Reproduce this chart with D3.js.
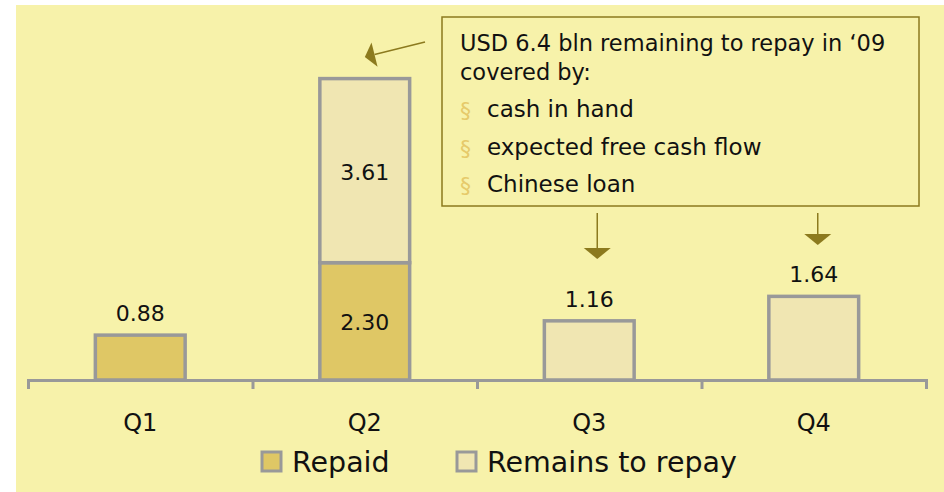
<!DOCTYPE html>
<html>
<head>
<meta charset="utf-8">
<script src="https://cdn.jsdelivr.net/npm/d3@7"></script>
<style>
  body { margin: 0; background: #ffffff; }
  svg text { font-family: "DejaVu Sans", Verdana, sans-serif; fill: #111; }
</style>
</head>
<body>
<svg id="chart"></svg>
<script>
// data
var quarters = ["Q1", "Q2", "Q3", "Q4"];
var repaid = [0.88, 2.30, 0, 0];
var remains = [0, 3.61, 1.16, 1.64];
var seriesNames = ["Repaid", "Remains to repay"];
var calloutTitle = ["USD 6.4 bln remaining to repay in \u201809", "covered by:"];
var calloutBullets = ["cash in hand", "expected free cash flow", "Chinese loan"];

var width = 944, height = 492;
var bg = "#f7f2aa", repaidFill = "#dfc765", remainsFill = "#f0e6b2";
var grey = "#999999", olive = "#8c7a1e", bulletCol = "#e6ca6a";

var svg = d3.select("#chart").attr("width", width).attr("height", height);

// background panel
svg.append("rect").attr("x", 16).attr("y", 5)
    .attr("width", width - 16).attr("height", height - 5)
    .attr("fill", bg);

var axisLeft = 28, axisRight = 926, baseY = 380;

var x = d3.scaleBand()
    .domain(quarters)
    .range([axisLeft, axisRight])
    .paddingInner(0.6)
    .paddingOuter(0.3);

var y = d3.scaleLinear()
    .domain([0, 6])
    .range([baseY, baseY - 6 * 51]);

// rows for stacking
var rows = quarters.map(function (q, i) {
    return { q: q, repaid: repaid[i], remains: remains[i] };
});
var stack = d3.stack().keys(["repaid", "remains"])(rows);
var fills = { repaid: repaidFill, remains: remainsFill };

// axis with ticks at the band edges
var edge = d3.scaleLinear().domain([0, quarters.length]).range([axisLeft, axisRight]);
var axis = svg.append("g")
    .attr("transform", "translate(0," + baseY + ")")
    .call(d3.axisBottom(edge).tickValues([1, 2, 3]).tickSize(9).tickSizeOuter(9).tickFormat(""));
axis.selectAll("path, line").attr("stroke", grey).attr("stroke-width", 3);

// bars
stack.forEach(function (layer) {
    svg.append("g").selectAll("rect")
        .data(layer.filter(function (d) { return d[1] - d[0] > 0; }))
        .enter().append("rect")
        .attr("x", function (d) { return x(d.data.q); })
        .attr("width", x.bandwidth())
        .attr("y", function (d) { return y(d[1]); })
        .attr("height", function (d) { return y(d[0]) - y(d[1]); })
        .attr("fill", fills[layer.key])
        .attr("stroke", grey)
        .attr("stroke-width", 3.5);
});

// value labels: inside when stacked, above otherwise
rows.forEach(function (r) {
    var cx = x(r.q) + x.bandwidth() / 2;
    var stacked = r.repaid > 0 && r.remains > 0;
    if (stacked) {
        [[0, r.repaid], [r.repaid, r.repaid + r.remains]].forEach(function (s) {
            svg.append("text")
                .attr("x", cx).attr("y", (y(s[0]) + y(s[1])) / 2 + 9)
                .attr("text-anchor", "middle").attr("font-size", 22)
                .text((s[1] - s[0]).toFixed(2));
        });
    } else {
        var v = r.repaid + r.remains;
        svg.append("text")
            .attr("x", cx).attr("y", y(v) - 14)
            .attr("text-anchor", "middle").attr("font-size", 22)
            .text(v.toFixed(2));
    }
});

// category labels
svg.append("g").selectAll("text")
    .data(quarters)
    .enter().append("text")
    .attr("x", function (d) { return x(d) + x.bandwidth() / 2; })
    .attr("y", 431)
    .attr("text-anchor", "middle").attr("font-size", 24)
    .text(function (d) { return d; });

// callout box
svg.append("rect").attr("x", 442).attr("y", 17).attr("width", 477).attr("height", 189)
    .attr("fill", bg).attr("stroke", olive).attr("stroke-width", 1.5);

calloutTitle.forEach(function (t, i) {
    svg.append("text").attr("x", 460).attr("y", 51 + i * 29)
        .attr("font-size", 22.5).text(t);
});
calloutBullets.forEach(function (t, i) {
    var by = 117 + i * 37.5;
    svg.append("text").attr("x", 460).attr("y", by + 1)
        .attr("font-size", 22).style("fill", bulletCol).text("\u00a7");
    svg.append("text").attr("x", 487).attr("y", by)
        .attr("font-size", 23).text(t);
});

// arrows
function arrow(x1, y1, x2, y2, headLen, headW) {
    var dx = x2 - x1, dy = y2 - y1, len = Math.sqrt(dx * dx + dy * dy);
    var ux = dx / len, uy = dy / len;
    var bx = x2 - ux * headLen, by = y2 - uy * headLen;
    svg.append("line").attr("x1", x1).attr("y1", y1).attr("x2", bx).attr("y2", by)
        .attr("stroke", olive).attr("stroke-width", 1.5);
    svg.append("path")
        .attr("d", "M" + x2 + "," + y2 +
            "L" + (bx - uy * headW / 2) + "," + (by + ux * headW / 2) +
            "L" + (bx + uy * headW / 2) + "," + (by - ux * headW / 2) + "Z")
        .attr("fill", olive);
}
var q2left = x("Q2");
arrow(425, 42, q2left + 45, 57, 10, 25);
arrow(x("Q3") + x.bandwidth() / 2 + 8, 213, x("Q3") + x.bandwidth() / 2 + 8, 259, 11, 27);
arrow(x("Q4") + x.bandwidth() / 2 + 4, 213, x("Q4") + x.bandwidth() / 2 + 4, 245, 11, 27);

// legend
var legend = svg.append("g");
var legX = [262, 457];
seriesNames.forEach(function (name, i) {
    legend.append("rect").attr("x", legX[i]).attr("y", 452).attr("width", 19).attr("height", 19)
        .attr("fill", i === 0 ? repaidFill : remainsFill)
        .attr("stroke", grey).attr("stroke-width", 3);
    legend.append("text").attr("x", legX[i] + 30).attr("y", 472)
        .attr("font-size", 28.5).text(name);
});
</script>
</body>
</html>
